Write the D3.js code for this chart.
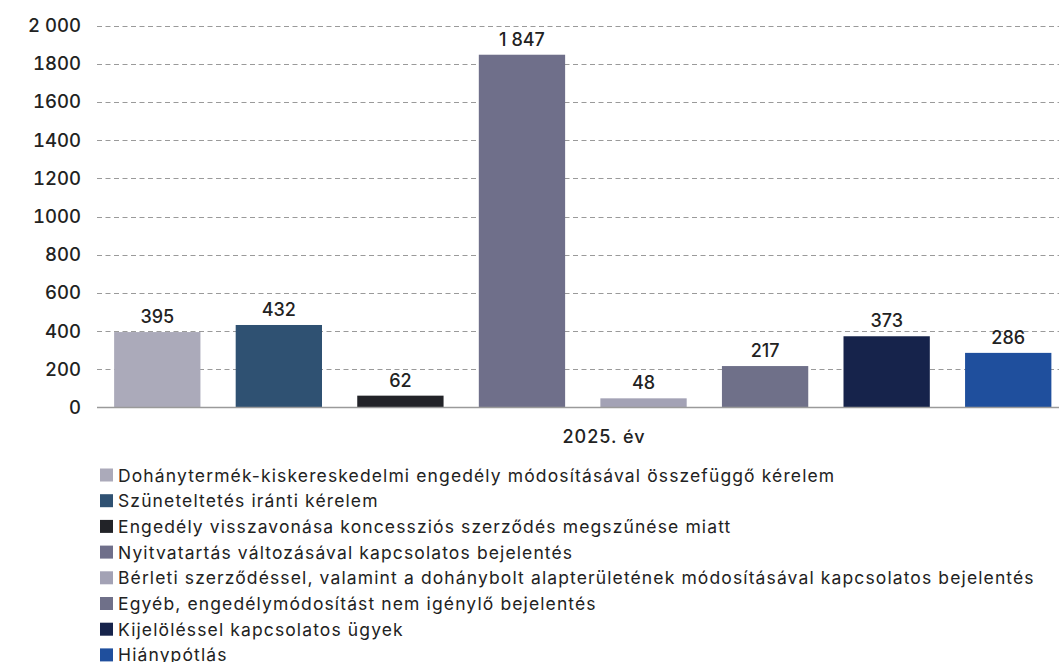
<!DOCTYPE html>
<html lang="hu">
<head>
  <meta charset="utf-8">
  <script src="https://d3js.org/d3.v7.min.js"></script>
  <style>
    body { margin: 0; background: #fff; }
    svg { display: block; font-family: Inter, "Noto Sans", sans-serif; }
    .tick-label { font-size: 18.5px; font-weight: 500; fill: #222; font-variant-numeric: tabular-nums; }
    .value { font-size: 18px; font-weight: 500; fill: #222; }
    .xlabel { font-size: 18px; font-weight: 500; fill: #222; letter-spacing: 1px; }
    .legend text { font-size: 17.5px; fill: #222; letter-spacing: 1.12px; }
  </style>
</head>
<body>
<script>
  // data
  var categories = [
    "Dohánytermék-kiskereskedelmi engedély módosításával összefüggő kérelem",
    "Szüneteltetés iránti kérelem",
    "Engedély visszavonása koncessziós szerződés megszűnése miatt",
    "Nyitvatartás változásával kapcsolatos bejelentés",
    "Bérleti szerződéssel, valamint a dohánybolt alapterületének módosításával kapcsolatos bejelentés",
    "Egyéb, engedélymódosítást nem igénylő bejelentés",
    "Kijelöléssel kapcsolatos ügyek",
    "Hiánypótlás"
  ];
  var values = [395, 432, 62, 1847, 48, 217, 373, 286];
  var valueLabels = ["395", "432", "62", "1 847", "48", "217", "373", "286"];
  var colors = ["#abaaba", "#2f5172", "#222328", "#6f6f8a", "#a3a2b5", "#6f7089", "#16234b", "#1f4f9d"];
  var yTicks = [0, 200, 400, 600, 800, 1000, 1200, 1400, 1600, 1800, 2000];
  var yTickLabels = ["0", "200", "400", "600", "800", "1000", "1200", "1400", "1600", "1800", "2 000"];
  var xLabel = "2025. év";

  var w = 1059, h = 662;
  var svg = d3.select("body").append("svg").attr("width", w).attr("height", h);

  var y = d3.scaleLinear().domain([0, 2000]).range([407.5, 25.5]);
  var x = d3.scaleBand().domain(d3.range(values.length))
    .range([96.5, 1069]).paddingInner(0.29).paddingOuter(0.145);

  // gridlines
  svg.selectAll("line.grid")
    .data(yTicks.filter(function (d) { return d > 0; }))
    .enter().append("line")
    .attr("class", "grid")
    .attr("x1", 97).attr("x2", w)
    .attr("y1", function (d) { return Math.round(y(d)) + 0.5; })
    .attr("y2", function (d) { return Math.round(y(d)) + 0.5; })
    .attr("stroke", "#9a9a9a")
    .attr("stroke-width", 1)
    .attr("stroke-dasharray", "5,3.5");

  // tick labels
  svg.selectAll("text.tick-label")
    .data(yTicks)
    .enter().append("text")
    .attr("class", "tick-label")
    .attr("x", 81)
    .attr("y", function (d) { return y(d) + 6.5; })
    .attr("text-anchor", "end")
    .text(function (d, i) { return yTickLabels[i]; });

  // bars
  svg.selectAll("rect.bar")
    .data(values)
    .enter().append("rect")
    .attr("class", "bar")
    .attr("x", function (d, i) { return x(i); })
    .attr("y", function (d) { return y(d); })
    .attr("width", x.bandwidth())
    .attr("height", function (d) { return y(0) - y(d); })
    .attr("fill", function (d, i) { return colors[i]; });

  // baseline
  svg.append("line")
    .attr("x1", 97).attr("x2", w)
    .attr("y1", y(0)).attr("y2", y(0))
    .attr("stroke", "#9a9a9a").attr("stroke-width", 1.5);

  // value labels
  svg.selectAll("text.value")
    .data(values)
    .enter().append("text")
    .attr("class", "value")
    .attr("x", function (d, i) { return x(i) + x.bandwidth() / 2; })
    .attr("y", function (d) { return y(d) - 9; })
    .attr("text-anchor", "middle")
    .text(function (d, i) { return valueLabels[i]; });

  // x label
  svg.append("text")
    .attr("class", "xlabel")
    .attr("x", 604).attr("y", 443)
    .attr("text-anchor", "middle")
    .text(xLabel);

  // legend
  var legend = svg.append("g").attr("class", "legend");
  var rows = legend.selectAll("g")
    .data(categories)
    .enter().append("g")
    .attr("transform", function (d, i) { return "translate(100," + (475 + i * 25.7) + ")"; });
  rows.append("rect")
    .attr("x", 0).attr("y", -6.5)
    .attr("width", 13).attr("height", 13)
    .attr("fill", function (d, i) { return colors[i]; });
  rows.append("text")
    .attr("x", 18).attr("y", 6.5)
    .text(function (d) { return d; });
</script>
</body>
</html>
